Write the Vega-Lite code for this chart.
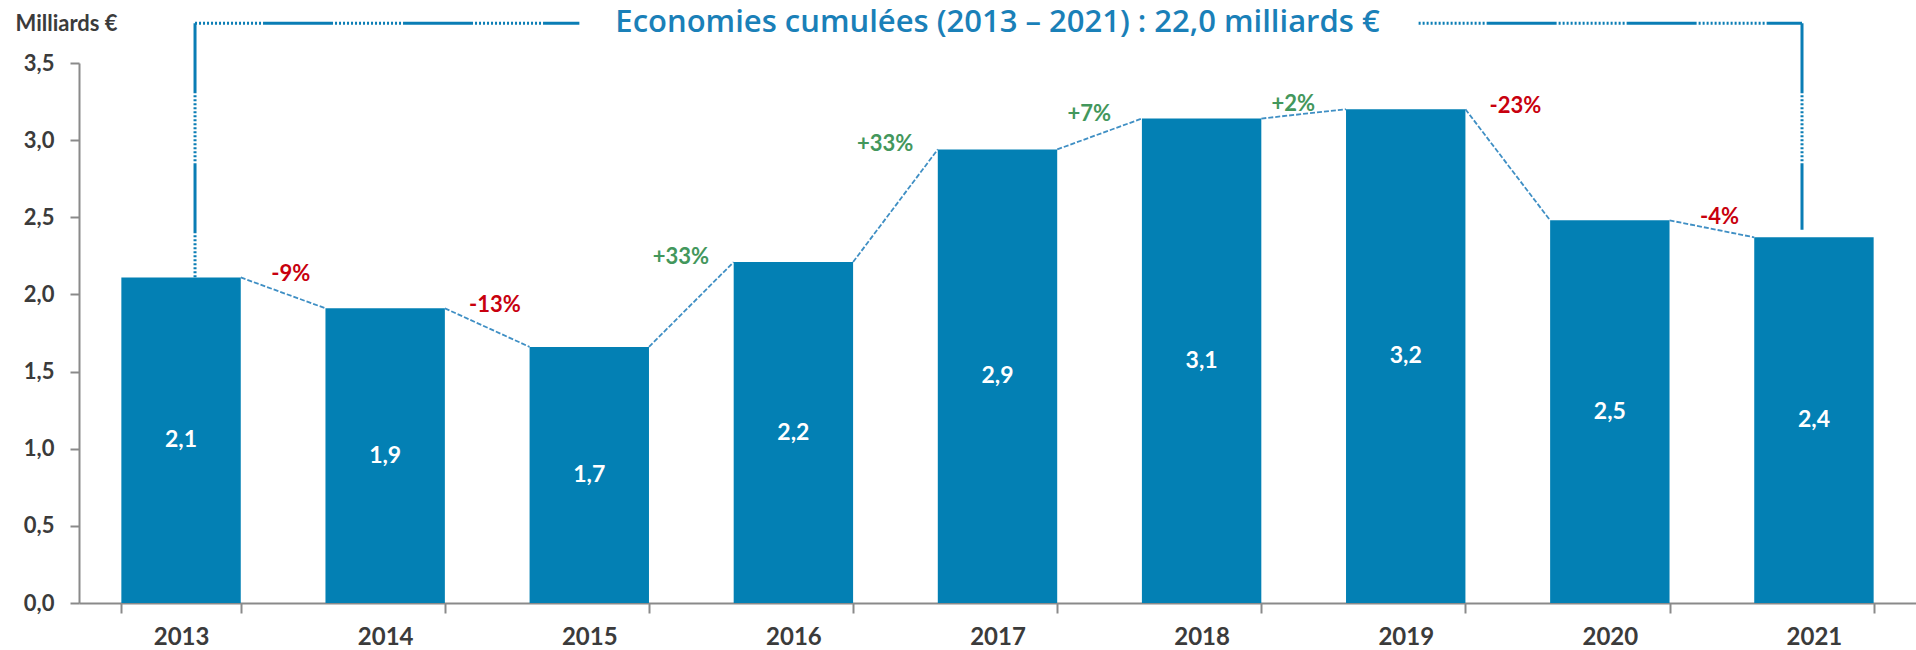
{
  "$schema": "https://vega.github.io/schema/vega-lite/v6.json",
  "width": 1837,
  "height": 540,
  "autosize": {"type": "none"},
  "padding": {"left": 79, "top": 63, "right": 0, "bottom": 47},
  "background": "white",
  "config": {
    "view": {"stroke": null},
    "font": "Lato",
    "locale": {"number": {"decimal": ",", "thousands": " ", "grouping": [3], "currency": ["", " €"]}}
  },
  "datasets": {
    "savings": [
      {"year": "2013", "value": 2.11},
      {"year": "2014", "value": 1.91},
      {"year": "2015", "value": 1.66},
      {"year": "2016", "value": 2.21},
      {"year": "2017", "value": 2.94},
      {"year": "2018", "value": 3.14},
      {"year": "2019", "value": 3.20},
      {"year": "2020", "value": 2.48},
      {"year": "2021", "value": 2.37}
    ],
    "changes": [
      {"from": "2013", "to": "2014", "v0": 2.11, "v1": 1.91, "pct": "-9%", "dir": "down"},
      {"from": "2014", "to": "2015", "v0": 1.91, "v1": 1.66, "pct": "-13%", "dir": "down"},
      {"from": "2015", "to": "2016", "v0": 1.66, "v1": 2.21, "pct": "+33%", "dir": "up"},
      {"from": "2016", "to": "2017", "v0": 2.21, "v1": 2.94, "pct": "+33%", "dir": "up"},
      {"from": "2017", "to": "2018", "v0": 2.94, "v1": 3.14, "pct": "+7%", "dir": "up"},
      {"from": "2018", "to": "2019", "v0": 3.14, "v1": 3.20, "pct": "+2%", "dir": "up"},
      {"from": "2019", "to": "2020", "v0": 3.20, "v1": 2.48, "pct": "-23%", "dir": "down"},
      {"from": "2020", "to": "2021", "v0": 2.48, "v1": 2.37, "pct": "-4%", "dir": "down"}
    ],
    "bracket": [
      {"title": "Economies cumulées (2013 – 2021) : 22,0 milliards €", "left": "2013", "leftEnd": "2015", "rightStart": "2019", "right": "2021", "mid": "2017", "leftBar": 2.11, "rightBar": 2.42, "level": 3.757}
    ]
  },
  "layer": [
    {
      "data": {"name": "savings"},
      "mark": {"type": "bar", "color": "#0380B4"},
      "encoding": {
        "x": {
          "field": "year",
          "type": "nominal",
          "sort": null,
          "scale": {"domain": ["2013","2014","2015","2016","2017","2018","2019","2020","2021"], "paddingInner": 0.415, "paddingOuter": 0.2075},
          "axis": {
            "title": null,
            "labelAngle": 0,
            "labelFont": "Lato",
            "labelFontSize": 24,
            "labelFontWeight": "bold",
            "labelColor": "#3b3b3b",
            "labelPadding": 12,
            "tickBand": "extent",
            "tickSize": 10,
            "tickColor": "#8a8a8a",
            "tickWidth": 2,
            "domainColor": "#8a8a8a",
            "domainWidth": 2
          }
        },
        "y": {
          "field": "value",
          "type": "quantitative",
          "scale": {"domain": [0, 3.5], "nice": false, "zero": true},
          "axis": {
            "title": "Milliards €",
            "titleAngle": 0,
            "titleAlign": "left",
            "titleBaseline": "middle",
            "titleX": -64,
            "titleY": -40,
            "titleFont": "Lato",
            "titleFontSize": 22,
            "titleFontWeight": "bold",
            "titleColor": "#3b3b3b",
            "values": [0, 0.5, 1, 1.5, 2, 2.5, 3, 3.5],
            "labelExpr": "replace(format(datum.value, '.1f'), '.', ',')",
            "labelFont": "Lato",
            "labelFontSize": 22,
            "labelFontWeight": "bold",
            "labelColor": "#3b3b3b",
            "labelPadding": 16,
            "tickSize": 9,
            "tickColor": "#8a8a8a",
            "tickWidth": 2,
            "domainColor": "#8a8a8a",
            "domainWidth": 2,
            "grid": false
          }
        }
      }
    },
    {
      "data": {"name": "savings"},
      "transform": [
        {"calculate": "datum.value / 2", "as": "mid"}
      ],
      "mark": {"type": "text", "color": "white", "font": "Lato", "fontSize": 23, "fontWeight": "bold", "baseline": "middle"},
      "encoding": {
        "x": {"field": "year", "type": "nominal"},
        "y": {"field": "mid", "type": "quantitative", "scale": {"domain": [0, 3.5], "nice": false}},
        "text": {"field": "value", "type": "quantitative", "format": ".1f"}
      }
    },
    {
      "data": {"name": "changes"},
      "mark": {"type": "rule", "color": "#3f8fc4", "strokeWidth": 1.8, "strokeDash": [5, 2]},
      "encoding": {
        "x": {"field": "from", "type": "nominal", "bandPosition": 1},
        "x2": {"field": "to", "bandPosition": 0},
        "y": {"field": "v0", "type": "quantitative", "scale": {"domain": [0, 3.5], "nice": false}},
        "y2": {"field": "v1"}
      }
    },
    {
      "data": {"name": "changes"},
      "transform": [{"filter": "datum.dir == 'down'"}],
      "mark": {"type": "text", "color": "#C8000E", "font": "Lato", "fontSize": 22, "fontWeight": "bold", "baseline": "middle", "dx": 8, "dy": -3},
      "encoding": {
        "x": {"field": "to", "type": "nominal", "bandPosition": -0.358},
        "y": {"field": "v0", "type": "quantitative", "scale": {"domain": [0, 3.5], "nice": false}},
        "text": {"field": "pct"}
      }
    },
    {
      "data": {"name": "changes"},
      "transform": [{"filter": "datum.dir == 'up'"}],
      "mark": {"type": "text", "color": "#43975C", "font": "Lato", "fontSize": 22, "fontWeight": "bold", "baseline": "middle", "dx": -10, "dy": -5},
      "encoding": {
        "x": {"field": "to", "type": "nominal", "bandPosition": -0.358},
        "y": {"field": "v1", "type": "quantitative", "scale": {"domain": [0, 3.5], "nice": false}},
        "text": {"field": "pct"}
      }
    },
    {
      "data": {"name": "bracket"},
      "mark": {"type": "rule", "color": "#0A7DB5", "strokeWidth": 3, "strokeDash": [70, 2, 2, 2, 2, 2, 2, 2, 2, 2, 2, 2, 2, 2, 2, 2, 2, 2, 2, 2, 2, 2, 2, 2, 2, 2, 2, 2, 2, 2, 2, 2, 2, 2, 2, 2]},
      "encoding": {
        "x": {"field": "left", "type": "nominal", "bandPosition": 0.617},
        "y": {"field": "level", "type": "quantitative", "scale": {"domain": [0, 3.5], "nice": false}},
        "y2": {"field": "leftBar"}
      }
    },
    {
      "data": {"name": "bracket"},
      "mark": {"type": "rule", "color": "#0A7DB5", "strokeWidth": 3, "strokeDash": [2, 2, 2, 2, 2, 2, 2, 2, 2, 2, 2, 2, 2, 2, 2, 2, 2, 2, 2, 2, 2, 2, 2, 2, 2, 2, 2, 2, 2, 2, 2, 2, 2, 2, 70, 2]},
      "encoding": {
        "x": {"field": "left", "type": "nominal", "bandPosition": 0.617},
        "x2": {"field": "leftEnd", "bandPosition": 0.417},
        "y": {"field": "level", "type": "quantitative", "scale": {"domain": [0, 3.5], "nice": false}}
      }
    },
    {
      "data": {"name": "bracket"},
      "mark": {"type": "rule", "color": "#0A7DB5", "strokeWidth": 3, "strokeDash": [2, 2, 2, 2, 2, 2, 2, 2, 2, 2, 2, 2, 2, 2, 2, 2, 2, 2, 2, 2, 2, 2, 2, 2, 2, 2, 2, 2, 2, 2, 2, 2, 2, 2, 70, 2]},
      "encoding": {
        "x": {"field": "rightStart", "type": "nominal", "bandPosition": 0.608},
        "x2": {"field": "right", "bandPosition": 0.4},
        "y": {"field": "level", "type": "quantitative", "scale": {"domain": [0, 3.5], "nice": false}}
      }
    },
    {
      "data": {"name": "bracket"},
      "mark": {"type": "rule", "color": "#0A7DB5", "strokeWidth": 3, "strokeDash": [70, 2, 2, 2, 2, 2, 2, 2, 2, 2, 2, 2, 2, 2, 2, 2, 2, 2, 2, 2, 2, 2, 2, 2, 2, 2, 2, 2, 2, 2, 2, 2, 2, 2, 2, 2]},
      "encoding": {
        "x": {"field": "right", "type": "nominal", "bandPosition": 0.4},
        "y": {"field": "level", "type": "quantitative", "scale": {"domain": [0, 3.5], "nice": false}},
        "y2": {"field": "rightBar"}
      }
    },
    {
      "data": {"name": "bracket"},
      "mark": {"type": "text", "color": "#1A80B8", "font": "Open Sans", "fontSize": 31, "fontWeight": 600, "baseline": "middle", "align": "center"},
      "encoding": {
        "x": {"field": "mid", "type": "nominal"},
        "y": {"field": "level", "type": "quantitative", "scale": {"domain": [0, 3.5], "nice": false}},
        "text": {"field": "title"}
      }
    }
  ]
}
